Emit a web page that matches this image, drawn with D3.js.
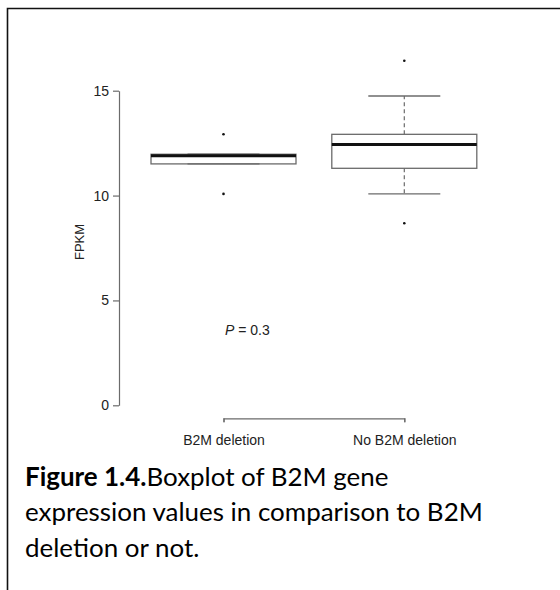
<!DOCTYPE html>
<html>
<head>
<meta charset="utf-8">
<script src="https://cdn.jsdelivr.net/npm/d3@7"></script>
<style>
  body { margin: 0; background: #fff; }
  svg { display: block; }
</style>
</head>
<body>
<svg id="chart" width="560" height="590"></svg>
<script>
// box plot stats (FPKM)
const groups = ["B2M deletion", "No B2M deletion"];
const whiskLow = [11.51, 10.08];
const q1 = [11.51, 11.30];
const median = [11.90, 12.43];
const q3 = [11.97, 12.92];
const whiskHigh = [11.97, 14.75];
const outliers = [[12.92, 10.08], [16.43, 8.68]];
const yTicks = [0, 5, 10, 15];
const pLabel = "0.3";
const captionLines = [
  ["Figure 1.4.", "Boxplot of B2M gene"],
  ["", "expression values in comparison to B2M"],
  ["", "deletion or not."]
];

let svg = d3.select("#chart");
let axisGrey = "#6b6b6b", textCol = "#222";

// frame of the page around the figure
svg.append("path")
  .attr("d", "M7.5,590 V8.5 H560")
  .attr("fill", "none")
  .attr("stroke", "#111")
  .attr("stroke-width", 1.6);

let y = d3.scaleLinear().domain([0, 15]).range([405.3, 90.7]);
let x = d3.scalePoint().domain(groups).range([223.5, 404.3]);
let boxW = 145, capW = 72;

// y axis
let yAxis = svg.append("g")
  .attr("transform", "translate(119,0)")
  .call(d3.axisLeft(y).tickValues(yTicks).tickSize(6).tickSizeOuter(0).tickPadding(4));
yAxis.select(".domain").attr("stroke", axisGrey).attr("stroke-width", 1.2);
yAxis.selectAll(".tick line").attr("stroke", axisGrey).attr("stroke-width", 1.2);
yAxis.selectAll("text")
  .attr("font-family", "Liberation Sans, Arial, sans-serif")
  .attr("font-size", 14)
  .attr("fill", textCol);

// x axis (R style bracket between group centres)
let xAxis = svg.append("g")
  .attr("transform", "translate(0,418.3)")
  .call(d3.axisBottom(x).tickSize(4).tickSizeOuter(4).tickPadding(13));
xAxis.select(".domain").attr("stroke", axisGrey).attr("stroke-width", 1.2);
xAxis.selectAll(".tick line").attr("stroke", axisGrey).attr("stroke-width", 1.2);
xAxis.selectAll("text")
  .attr("font-family", "Liberation Sans, Arial, sans-serif")
  .attr("font-size", 14)
  .attr("fill", textCol);

// y label
svg.append("text")
  .attr("transform", "translate(84,242) rotate(-90)")
  .attr("text-anchor", "middle")
  .attr("font-family", "Liberation Sans, Arial, sans-serif")
  .attr("font-size", 13)
  .attr("fill", textCol)
  .text("FPKM");

// boxes
let box = svg.selectAll(".box")
  .data(groups)
  .enter()
  .append("g")
  .attr("class", "box");

// dashed whiskers
box.append("line")
  .attr("x1", d => x(d)).attr("x2", d => x(d))
  .attr("y1", (d, i) => y(q3[i])).attr("y2", (d, i) => y(whiskHigh[i]))
  .attr("stroke", axisGrey).attr("stroke-width", 1.2).attr("stroke-dasharray", "4,3");
box.append("line")
  .attr("x1", d => x(d)).attr("x2", d => x(d))
  .attr("y1", (d, i) => y(q1[i])).attr("y2", (d, i) => y(whiskLow[i]))
  .attr("stroke", axisGrey).attr("stroke-width", 1.2).attr("stroke-dasharray", "4,3");

// caps
box.append("line")
  .attr("x1", d => x(d) - capW / 2).attr("x2", d => x(d) + capW / 2)
  .attr("y1", (d, i) => y(whiskHigh[i])).attr("y2", (d, i) => y(whiskHigh[i]))
  .attr("stroke", axisGrey).attr("stroke-width", 1.4);
box.append("line")
  .attr("x1", d => x(d) - capW / 2).attr("x2", d => x(d) + capW / 2)
  .attr("y1", (d, i) => y(whiskLow[i])).attr("y2", (d, i) => y(whiskLow[i]))
  .attr("stroke", axisGrey).attr("stroke-width", 1.4);

box.append("rect")
  .attr("x", d => x(d) - boxW / 2)
  .attr("y", (d, i) => y(q3[i]))
  .attr("width", boxW)
  .attr("height", (d, i) => y(q1[i]) - y(q3[i]))
  .attr("fill", "none")
  .attr("stroke", axisGrey)
  .attr("stroke-width", 1.3);

box.append("line")
  .attr("x1", d => x(d) - boxW / 2).attr("x2", d => x(d) + boxW / 2)
  .attr("y1", (d, i) => y(median[i])).attr("y2", (d, i) => y(median[i]))
  .attr("stroke", "#111").attr("stroke-width", 3);

// outlier points
box.selectAll("circle")
  .data((d, i) => outliers[i].map(v => ({ g: d, v: v })))
  .enter()
  .append("circle")
  .attr("cx", d => x(d.g))
  .attr("cy", d => y(d.v))
  .attr("r", 1.3)
  .attr("fill", "#111");

// p value
let pText = svg.append("text")
  .attr("x", 225)
  .attr("y", 335)
  .attr("font-family", "Liberation Sans, Arial, sans-serif")
  .attr("font-size", 14)
  .attr("fill", textCol);
pText.append("tspan").attr("font-style", "italic").text("P");
pText.append("tspan").text(" = " + pLabel);

// caption below the figure
let cap = svg.append("g")
  .attr("font-family", "Lato, 'Open Sans', sans-serif")
  .attr("fill", "#000");
let capSize = 26;
captionLines.forEach(function (line, i) {
  let t = cap.append("text")
    .attr("x", 25)
    .attr("y", 486 + i * 35.3)
    .attr("font-size", capSize);
  if (line[0]) t.append("tspan").attr("font-weight", "bold").text(line[0]);
  t.append("tspan").text(line[1]);
});
// fit caption width to the second line of the original (about 458px)
let w = cap.selectAll("text").nodes()[1].getComputedTextLength();
cap.selectAll("text").attr("font-size", capSize * 458 / w);
</script>
</body>
</html>
